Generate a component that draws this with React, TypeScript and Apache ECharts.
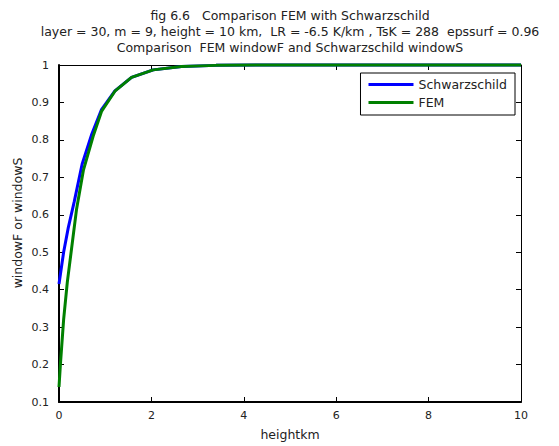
import React, { useEffect, useRef } from "react";
import * as echarts from "echarts";

const titleLines = [
  "fig 6.6   Comparison FEM with Schwarzschild",
  "layer = 30, m = 9, height = 10 km,  LR = -6.5 K/km , TsK = 288  epssurf = 0.96",
  "Comparison  FEM windowF and Schwarzschild windowS",
];
const xAxisName = "heightkm";
const yAxisName = "windowF or windowS";
const seriesNames = ["Schwarzschild", "FEM"];

const schwarzX = [0, 0.1, 0.2, 0.33, 0.5, 0.7, 0.92, 1.21, 1.57, 2.04, 2.65, 3.4, 4.3, 5.4, 6.7, 8.2, 10];
const schwarzY = [0.415, 0.5, 0.565, 0.635, 0.735, 0.812, 0.881, 0.931, 0.967, 0.987, 0.996, 0.999, 1, 1, 1, 1, 1];

const femX = [0, 0.03, 0.1, 0.18, 0.38, 0.53, 0.74, 0.92, 1.21, 1.57, 2.04, 2.65, 3.4, 4.3, 5.4, 6.7, 8.2, 10];
const femY = [0.14, 0.2, 0.32, 0.42, 0.615, 0.72, 0.81, 0.876, 0.93, 0.967, 0.987, 0.996, 0.999, 1, 1, 1, 1, 1];

const FONT = "DejaVu Sans";

export default function App() {
  const ref = useRef<HTMLDivElement>(null);
  useEffect(() => {
    if (!ref.current) return;
    const chart = echarts.init(ref.current, null, { renderer: "svg" });
    const fmtY = (v: number) => String(parseFloat(v.toFixed(1)));
    const tickInside = { show: true, inside: true, length: 5, lineStyle: { color: "#000", width: 1 } };
    chart.setOption({
      animation: false,
      backgroundColor: "#fff",
      title: {
        text: titleLines.join("\n"),
        left: 285,
        top: 2,
        textAlign: "center",
        textStyle: { fontFamily: FONT, fontSize: 12.5, fontWeight: "normal", color: "#222", lineHeight: 16 },
      },
      graphic: [
        {
          type: "text",
          x: 17,
          y: 223,
          rotation: Math.PI / 2,
          style: {
            text: yAxisName,
            fontFamily: FONT,
            fontSize: 12.5,
            fill: "#222",
            textAlign: "center",
            textVerticalAlign: "middle",
          },
        },
      ],
      legend: {
        orient: "vertical",
        right: 44,
        top: 73,
        backgroundColor: "#fff",
        borderColor: "#000",
        borderWidth: 1,
        borderRadius: 0,
        padding: [5, 8, 6, 8],
        itemGap: 5,
        itemWidth: 45,
        itemHeight: 3,
        icon: "rect",
        textStyle: { fontFamily: FONT, fontSize: 12.5, color: "#222", width: 93 },
        data: seriesNames,
      },
      grid: { left: 59, right: 38, top: 65, bottom: 40, containLabel: false },
      xAxis: [
        {
          type: "value",
          min: 0,
          max: 10,
          interval: 2,
          name: xAxisName,
          nameLocation: "middle",
          nameGap: 26,
          nameTextStyle: { fontFamily: FONT, fontSize: 12.5, color: "#222" },
          axisLine: { show: true, onZero: false, lineStyle: { color: "#000", width: 2 } },
          axisTick: tickInside,
          axisLabel: { fontFamily: FONT, fontSize: 11, color: "#222", margin: 8 },
          splitLine: { show: false },
        },
        {
          type: "value",
          position: "top",
          min: 0,
          max: 10,
          interval: 2,
          axisLine: { show: true, onZero: false, lineStyle: { color: "#000", width: 1 } },
          axisTick: tickInside,
          axisLabel: { show: false },
          splitLine: { show: false },
        },
      ],
      yAxis: [
        {
          type: "value",
          min: 0.1,
          max: 1,
          interval: 0.1,
          axisLine: { show: true, onZero: false, lineStyle: { color: "#000", width: 2 } },
          axisTick: tickInside,
          axisLabel: { fontFamily: FONT, fontSize: 11, color: "#222", margin: 10, formatter: fmtY },
          splitLine: { show: false },
        },
        {
          type: "value",
          position: "right",
          min: 0.1,
          max: 1,
          interval: 0.1,
          axisLine: { show: true, onZero: false, lineStyle: { color: "#000", width: 1 } },
          axisTick: tickInside,
          axisLabel: { show: false },
          splitLine: { show: false },
        },
      ],
      series: [
        {
          name: seriesNames[0],
          type: "line",
          data: schwarzX.map((x, i) => [x, schwarzY[i]]),
          showSymbol: false,
          symbol: "none",
          lineStyle: { color: "#0000ff", width: 3 },
          itemStyle: { color: "#0000ff" },
          clip: false,
        },
        {
          name: seriesNames[1],
          type: "line",
          data: femX.map((x, i) => [x, femY[i]]),
          showSymbol: false,
          symbol: "none",
          lineStyle: { color: "#008000", width: 3 },
          itemStyle: { color: "#008000" },
          clip: false,
        },
      ],
    });
    return () => chart.dispose();
  }, []);
  return <div ref={ref} style={{ position: "absolute", left: 0, top: 0, width: 559, height: 446 }} />;
}
